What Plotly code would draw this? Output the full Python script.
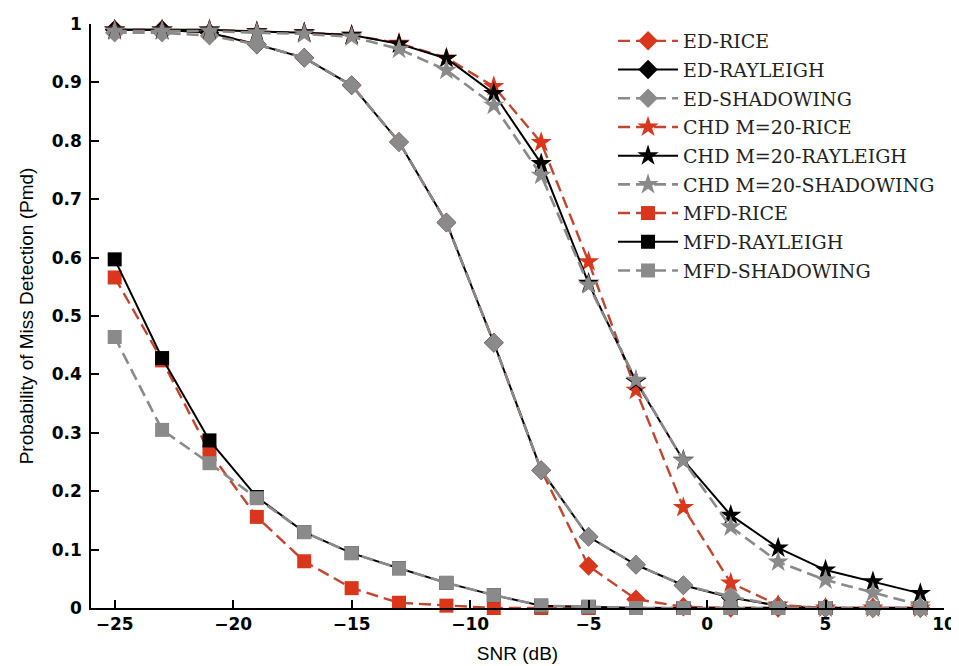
import plotly.graph_objects as go

snr = [-25, -23, -21, -19, -17, -15, -13, -11, -9, -7, -5, -3, -1, 1, 3, 5, 7, 9]

ed_rice = [0.99, 0.99, 0.985, 0.965, 0.942, 0.895, 0.798, 0.66, 0.454, 0.236, 0.072, 0.015, 0.002, 0.0, 0.0, 0.0, 0.0, 0.0]
ed_rayleigh = [0.99, 0.99, 0.985, 0.965, 0.942, 0.895, 0.798, 0.66, 0.454, 0.236, 0.122, 0.074, 0.039, 0.018, 0.004, 0.0, 0.0, 0.0]
ed_shadowing = [0.985, 0.985, 0.98, 0.965, 0.942, 0.895, 0.798, 0.66, 0.454, 0.236, 0.122, 0.074, 0.039, 0.02, 0.004, 0.0, 0.0, 0.0]

chd_rice = [0.99, 0.99, 0.99, 0.987, 0.985, 0.981, 0.967, 0.942, 0.893, 0.797, 0.593, 0.373, 0.172, 0.043, 0.005, 0.0, 0.0, 0.0]
chd_rayleigh = [0.99, 0.99, 0.99, 0.987, 0.985, 0.981, 0.966, 0.941, 0.881, 0.761, 0.556, 0.388, 0.253, 0.159, 0.103, 0.065, 0.045, 0.025]
chd_shadowing = [0.988, 0.988, 0.988, 0.985, 0.983, 0.978, 0.957, 0.921, 0.861, 0.741, 0.553, 0.39, 0.252, 0.139, 0.079, 0.048, 0.026, 0.005]

mfd_rice = [0.566, 0.424, 0.267, 0.156, 0.08, 0.034, 0.009, 0.004, 0.0, 0.0, 0.0, 0.0, 0.0, 0.0, 0.0, 0.0, 0.0, 0.0]
mfd_rayleigh = [0.597, 0.428, 0.287, 0.19, 0.13, 0.094, 0.068, 0.043, 0.022, 0.004, 0.002, 0.0, 0.0, 0.0, 0.0, 0.0, 0.0, 0.0]
mfd_shadowing = [0.464, 0.305, 0.248, 0.188, 0.13, 0.094, 0.068, 0.043, 0.022, 0.004, 0.002, 0.0, 0.0, 0.0, 0.0, 0.0, 0.0, 0.0]

series_names = ["ED-RICE", "ED-RAYLEIGH", "ED-SHADOWING",
                "CHD M=20-RICE", "CHD M=20-RAYLEIGH", "CHD M=20-SHADOWING",
                "MFD-RICE", "MFD-RAYLEIGH", "MFD-SHADOWING"]
series_values = [ed_rice, ed_rayleigh, ed_shadowing,
                 chd_rice, chd_rayleigh, chd_shadowing,
                 mfd_rice, mfd_rayleigh, mfd_shadowing]

RED_M = "#d9361c"
RED_L = "#c2452f"
BLACK = "#000000"
GRAY = "#8a8a8a"

styles = {
    "RICE": dict(mc=RED_M, lc=RED_L, dash="12px,6px", lw=2.4),
    "RAYLEIGH": dict(mc=BLACK, lc=BLACK, dash="solid", lw=2),
    "SHADOWING": dict(mc=GRAY, lc=GRAY, dash="12px,6px", lw=2.6),
}
symbols = {"ED": ("diamond", 15), "CHD": ("star", 16), "MFD": ("square", 14)}

fig = go.Figure()
for name, vals in zip(series_names, series_values):
    kind = name.split("-")[-1]
    det = name.split(" ")[0].split("-")[0]
    st = styles[kind]
    sym, sz = symbols[det]
    fig.add_trace(go.Scatter(
        x=snr, y=vals, name=name, mode="lines+markers",
        line=dict(color=st["lc"], width=st["lw"], dash=st["dash"]),
        marker=dict(symbol=sym, size=sz, color=st["mc"], line=dict(width=0)),
        cliponaxis=False, legendgroup=name,
    ))

# page body has an 8px default margin; figure sized to fit the 959x666 window
fig.update_layout(
    width=951, height=658,
    margin=dict(l=83, r=15, t=16, b=58),
    plot_bgcolor="white", paper_bgcolor="white",
    showlegend=True,
    legend=dict(
        x=0.612, y=1.0034, xanchor="left", yanchor="top",
        font=dict(family="DejaVu Serif", size=19, color="#222"),
        bgcolor="rgba(0,0,0,0)",
        itemwidth=60, tracegroupgap=1,
    ),
    xaxis=dict(
        range=[-26, 10], tickvals=[-25, -20, -15, -10, -5, 0, 5, 10],
        ticks="inside", ticklen=8, tickcolor="black", tickwidth=1.5,
        showline=True, linecolor="black", linewidth=1.5, mirror=False,
        showgrid=False, zeroline=False, automargin=False,
        tickfont=dict(family="DejaVu Sans", size=17, color="black", weight="bold"),
        title=dict(text="SNR (dB)", font=dict(family="Liberation Sans", size=19, color="black"), standoff=14),
    ),
    yaxis=dict(
        range=[0, 1], tickvals=[0, 0.1, 0.2, 0.3, 0.4, 0.5, 0.6, 0.7, 0.8, 0.9, 1],
        ticktext=["0", "0.1", "0.2", "0.3", "0.4", "0.5", "0.6", "0.7", "0.8", "0.9", "1"],
        ticks="inside", ticklen=8, tickcolor="black", tickwidth=1.5,
        showline=True, linecolor="black", linewidth=1.5, mirror=False,
        showgrid=False, zeroline=False, automargin=False,
        tickfont=dict(family="DejaVu Sans", size=17, color="black", weight="bold"),
        ticklabelstandoff=4,
        title=dict(text="Probability of Miss Detection (Pmd)", font=dict(family="Liberation Sans", size=19, color="black"), standoff=13),
    ),
)

fig.write_html("out.html")
